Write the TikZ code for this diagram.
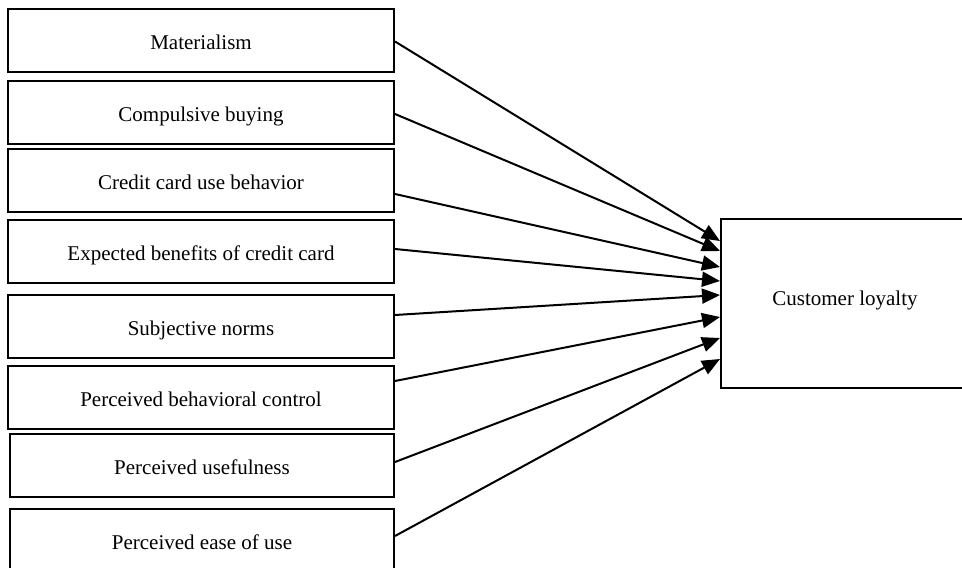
\documentclass[tikz,border=0pt]{standalone}
\usepackage{fontspec}
\setmainfont{Liberation Serif}
\usetikzlibrary{arrows.meta}

\tikzset{
  factor/.style={draw, line width=1pt, minimum width=193pt, minimum height=31.5pt,
    inner sep=0pt, text height=9.5pt, text depth=0.5pt, font=\fontsize{10.5}{12}\selectfont},
  link/.style={line width=1pt, -{Triangle[length=9pt,width=7.5pt]}}
}

\begin{document}
\begin{tikzpicture}[x=0.5pt,y=-0.5pt]
\useasboundingbox (0,0) rectangle (962,567);
\clip (0,0) rectangle (962,567);
% factors
\node[factor] (mat)  at (201,41)    {Materialism};
\node[factor] (comp) at (201,112.5) {Compulsive buying};
\node[factor] (ccub) at (201,180.5) {Credit card use behavior};
\node[factor] (ebcc) at (201,251.5) {Expected benefits of credit card};
\node[factor] (sn)   at (201,326.5) {Subjective norms};
\node[factor] (pbc)  at (201,397)   {Perceived behavioral control};
\node[factor, minimum width=192pt] (pu)   at (202,465.5) {Perceived usefulness};
\node[factor, minimum width=192pt] (peou) at (202,540.5) {Perceived ease of use};
% outcome
\node[factor, minimum width=124pt, minimum height=84.5pt, text height=7pt, text depth=5.5pt]
  (loy) at (845,303.5) {Customer loyalty};
% paths
\foreach \src/\from/\to in {mat/-0.25/31.25, comp/-0.75/26.25, ccub/-6.75/18.25,
  ebcc/1.25/11.25, sn/5.75/4.25, pbc/8/-6.75, pu/1.75/-17.25, peou/2.25/-27.75} {
  \draw[link] ([yshift=\from pt]\src.east) -- ([yshift=\to pt]loy.west);
}
\end{tikzpicture}
\end{document}
